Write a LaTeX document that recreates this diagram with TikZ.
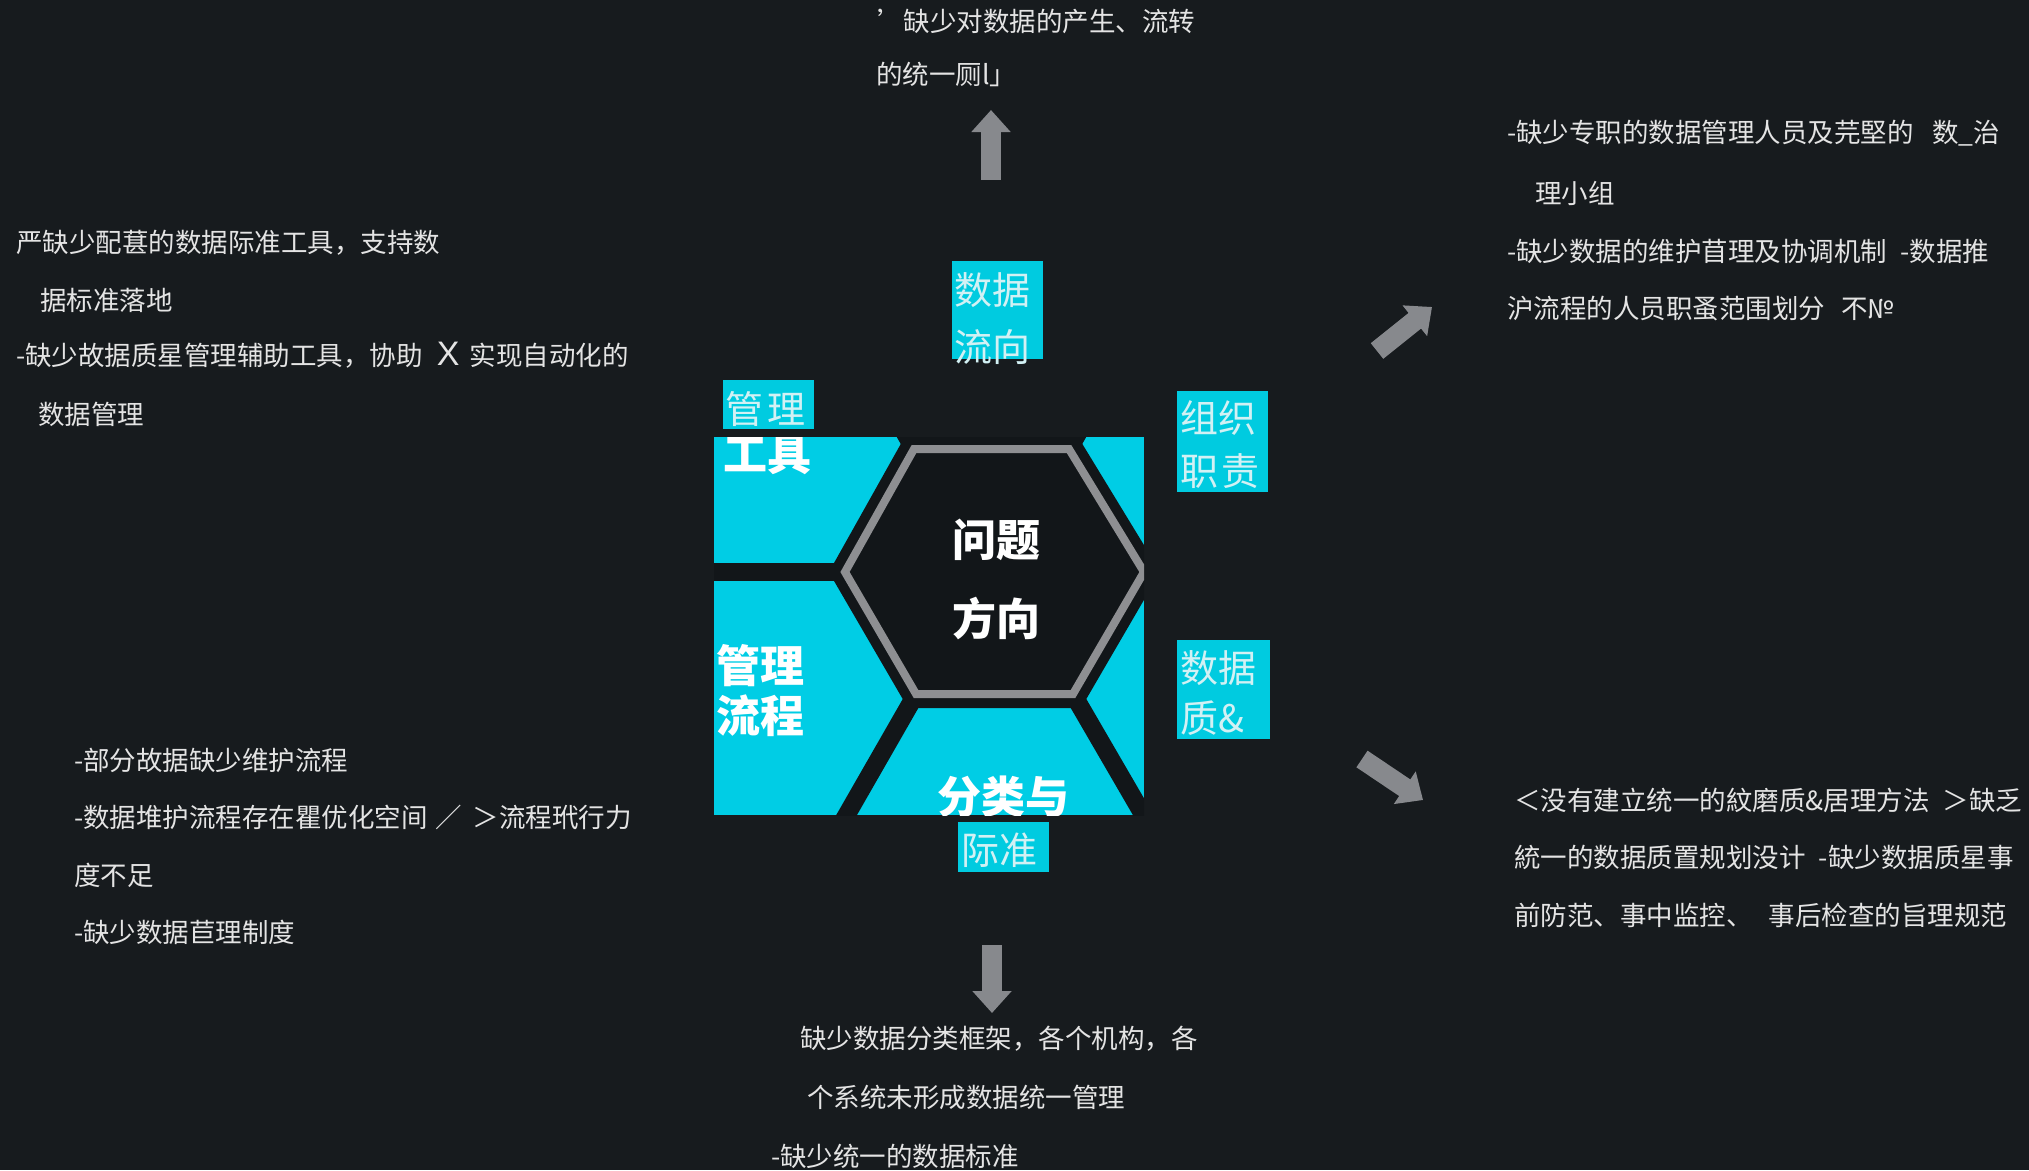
\documentclass[tikz,border=0pt]{standalone}
\usepackage{fontspec}
\newfontfamily\cjk{Noto Sans CJK SC}
\newfontfamily\latinsans{Liberation Sans}
\usetikzlibrary{arrows.meta}
\definecolor{bg}{HTML}{171B1E}
\definecolor{cy}{HTML}{00CDE5}
\definecolor{cylab}{HTML}{00CBE0}
\definecolor{labtxt}{HTML}{D2F1F4}
\definecolor{hexgray}{HTML}{8E8F92}
\definecolor{arrgray}{HTML}{87898D}
\definecolor{txt}{HTML}{E4E4E4}
\definecolor{dk}{HTML}{121619}
\begin{document}
\begin{tikzpicture}[x=1pt,y=-1pt,
  body/.style={font=\cjk\fontsize{26.5}{30}\selectfont, text=txt, anchor=west, inner sep=0pt},
  lab/.style={font=\cjk\fontsize{38}{40}\selectfont, text=labtxt, anchor=west, inner sep=0pt},
  labbox/.style={fill=cylab, inner sep=0pt, anchor=north west},
  hextxt/.style={font=\cjk\bfseries\fontsize{44}{46}\selectfont, text=white, inner sep=0pt},
  gapline/.style={draw=dk, line width=18pt},
  bigarrow/.style={draw=arrgray, line width=20pt, -{Triangle[width=38pt,length=22pt]}}]
\fill[bg] (0,0) rectangle (2029,1170);
\useasboundingbox (0,0) rectangle (2029,1170);

% ---- central honeycomb picture ----
\begin{scope}
\clip (714,437) rectangle (1144,815);
\fill[cy] (714,437) rectangle (1144,815);
\coordinate (vtl) at (914,449);
\coordinate (vtr) at (1069,449);
\coordinate (vr) at (1144,572);
\coordinate (vbr) at (1073,694);
\coordinate (vbl) at (916,694);
\coordinate (vl) at (845,572);
\coordinate (etl) at (898,421);
\coordinate (etr) at (1085,421);
\coordinate (ebr) at (1152,830);
\coordinate (ebl) at (838,830);
\coordinate (el) at (700,572);
\draw[gapline] (vl) -- (el);
\draw[gapline] (vtl) -- (etl);
\draw[gapline] (vtr) -- (etr);
\draw[gapline] (vbr) -- (ebr);
\draw[gapline] (vbl) -- (ebl);
\draw[dk, fill=dk, line width=28pt, line join=round] (vtl) -- (vtr) -- (vr) -- (vbr) -- (vbl) -- (vl) -- cycle;
\draw[hexgray, line width=8pt] (vtl) -- (vtr) -- (vr) -- (vbr) -- (vbl) -- (vl) -- cycle;
\node[hextxt] (tgj) at (767,455) {工具};
\node[hextxt] (tgl1) at (760,666) {管理};
\node[hextxt] (tgl2) at (760,716) {流程};
\node[hextxt] (twt1) at (996,540) {问题};
\node[hextxt] (twt2) at (996,619) {方向};
\node[hextxt] (tfl) at (1003,797) {分类与};
\end{scope}

% ---- cyan label boxes ----
\node[labbox, minimum width=91pt, minimum height=98pt] (bflow) at (952,261) {};
\node[lab] (lflow1) at (954,290) {数据};
\node[lab] (lflow2) at (954,347) {流向};
\node[labbox, minimum width=91pt, minimum height=49pt] (btool) at (723,380) {};
\node[lab] (ltool) at (725,409) {管\hspace{4pt}理};
\node[labbox, minimum width=91pt, minimum height=101pt] (borg) at (1177,391) {};
\node[lab] (lorg1) at (1180,418) {组织};
\node[lab] (lorg2) at (1180,471) {职\hspace{3pt}责};
\node[labbox, minimum width=93pt, minimum height=99pt] (bqual) at (1177,640) {};
\node[lab] (lqual1) at (1180,668) {数据};
\node[lab] (lqual2) at (1180,718) {质\&};
\node[labbox, minimum width=91pt, minimum height=50pt] (bstd) at (958,822) {};
\node[lab] (lstd) at (961,850) {际准};

% ---- arrows ----
\coordinate (aut) at (991,180);
\coordinate (auh) at (991,110);
\coordinate (adt) at (992,945);
\coordinate (adh) at (992,1013);
\coordinate (aurt) at (1377,351);
\coordinate (aurh) at (1432,307);
\coordinate (adrt) at (1362,759);
\coordinate (adrh) at (1423,800);
\draw[bigarrow] (aut) -- (auh);
\draw[bigarrow] (adt) -- (adh);
\draw[bigarrow] (aurt) -- (aurh);
\draw[bigarrow] (adrt) -- (adrh);

% ---- top text ----
\node[body] (t1) at (877,21) {’缺少对数据的产生、流转};
\node[body] (t2) at (876,74) {的统一厕l」};

% ---- top right text ----
\node[body] (r1) at (1507,133) {-缺少专职的数据管理人员及芫堅的\hspace{0.7em}数\_治};
\node[body] (r2) at (1535,193) {理小组};
\node[body] (r3) at (1507,251) {-缺少数据的维护苜理及协调机制\hspace{0.5em}-数据推};
\node[body] (r4) at (1507,309) {沪流程的人员职蚤范围划分\hspace{0.6em}不№};

% ---- left text ----
\node[body] (l1) at (16,243) {严缺少配葚的数据际准工具，支持数};
\node[body] (l2) at (40,300) {据标准落地};
\node[body] (l3) at (16,355) {-缺少故据质星管理辅助工具，协助\hspace{14pt}{\latinsans\fontsize{34}{34}\selectfont X}\hspace{10pt}实现自动化的};
\node[body] (l4) at (38,414) {数据管理};

% ---- lower left text ----
\node[body] (ll1) at (74,760) {-部分故据缺少维护流程};
\node[body] (ll2) at (74,817) {-数据堆护流程存在瞿优化空间\hspace{0.3em}／\hspace{0.4em}＞流程玳行力};
\node[body] (ll3) at (74,875) {度不足};
\node[body] (ll4) at (74,932) {-缺少数据苣理制度};

% ---- lower right text ----
\node[body] (rl1) at (1514,800) {＜没有建立统一的紋磨质\&居理方法\hspace{0.5em}＞缺乏};
\node[body] (rl2) at (1514,857) {統一的数据质置规划没计\hspace{0.5em}-缺少数据质星事};
\node[body] (rl3) at (1514,915) {前防范、事中监控、\hspace{0.6em}事后检查的旨理规范};

% ---- bottom text ----
\node[body] (b1) at (800,1039) {缺少数据分类框架，各个机构，各};
\node[body] (b2) at (807,1097) {个系统未形成数据统一管理};
\node[body] (b3) at (771,1156) {-缺少统一的数据标准};
\end{tikzpicture}
\end{document}
